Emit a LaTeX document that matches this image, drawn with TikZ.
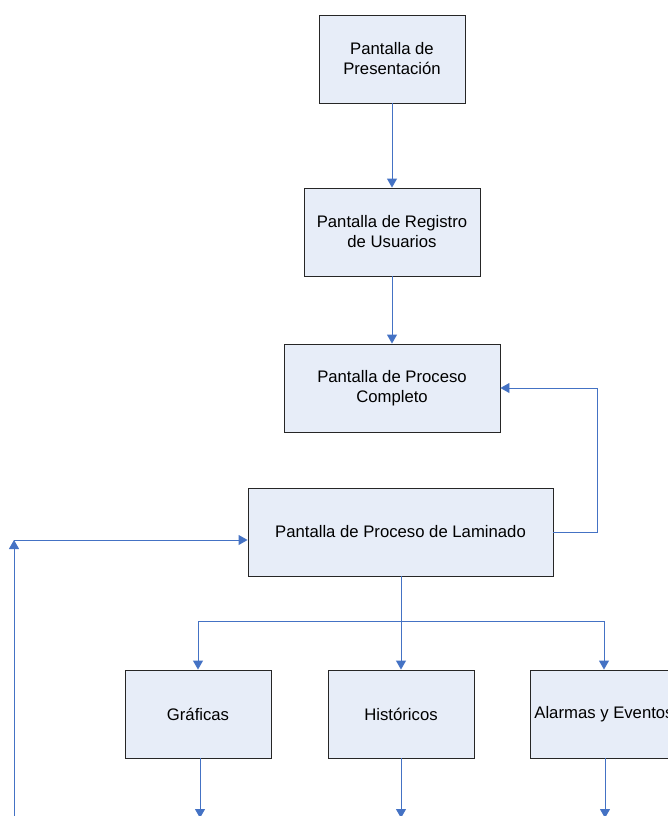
\documentclass[tikz,border=0pt]{standalone}
\usepackage{fontspec}
\setmainfont{Liberation Sans}
\usetikzlibrary{arrows.meta,shadows}
\definecolor{boxfill}{RGB}{231,237,248}
\definecolor{linkblue}{RGB}{68,114,196}
\tikzset{
  box/.style={draw=black!85, line width=0.9pt, fill=boxfill, inner sep=0pt, align=center,
    font=\fontsize{16.7}{20}\selectfont,
    drop shadow={shadow xshift=1.2pt, shadow yshift=-1.2pt, fill=black!45, opacity=1}},
  arr/.style={draw=linkblue, line width=0.9pt, -{Triangle[length=9pt,width=10pt]}},
  ln/.style={draw=linkblue, line width=0.9pt}
}
\begin{document}
\begin{tikzpicture}[x=1pt,y=-1pt]
\useasboundingbox (0,0) rectangle (667,816);
\node[box, minimum width=146pt, minimum height=88pt] (b1) at (392,59) {Pantalla de\\Presentación};
\node[box, minimum width=176pt, minimum height=88pt] (b2) at (392,232) {Pantalla de Registro\\de Usuarios};
\node[box, minimum width=216pt, minimum height=88pt] (b3) at (392,388) {Pantalla de Proceso\\Completo};
\node[box, minimum width=305pt, minimum height=88pt] (b4) at (400.5,532) {Pantalla de Proceso de Laminado};
\node[box, minimum width=146pt, minimum height=88pt] (b5) at (198,714) {Gráficas};
\node[box, minimum width=146pt, minimum height=88pt] (b6) at (401,714) {Históricos};
\node[box, minimum width=148pt, minimum height=88pt] (b7) at (604,714) {Alarmas y Eventos};

\draw[arr] (b1) -- (b2);
\draw[arr] (b2) -- (b3);
\draw[arr] (b4.east) -- ++(44,0) |- (b3.east);

\coordinate (lb) at (14,818);
\coordinate (lj) at (14,540);
\draw[arr] (lb) -- (lj);
\draw[arr] (lj) -- (lj -| b4.west);

\coordinate (fork) at (401,621);
\draw[ln] (b4.south -| fork) -- (fork);
\draw[arr] (fork) -| (b5.north);
\draw[arr] (fork) -- (b6.north);
\draw[arr] (fork) -| (b7.north);

\coordinate (e5) at (200,818);
\coordinate (e6) at (401,818);
\coordinate (e7) at (605,818);
\draw[arr] (b5.south -| e5) -- (e5);
\draw[arr] (b6.south) -- (e6);
\draw[arr] (b7.south -| e7) -- (e7);
\end{tikzpicture}
\end{document}
